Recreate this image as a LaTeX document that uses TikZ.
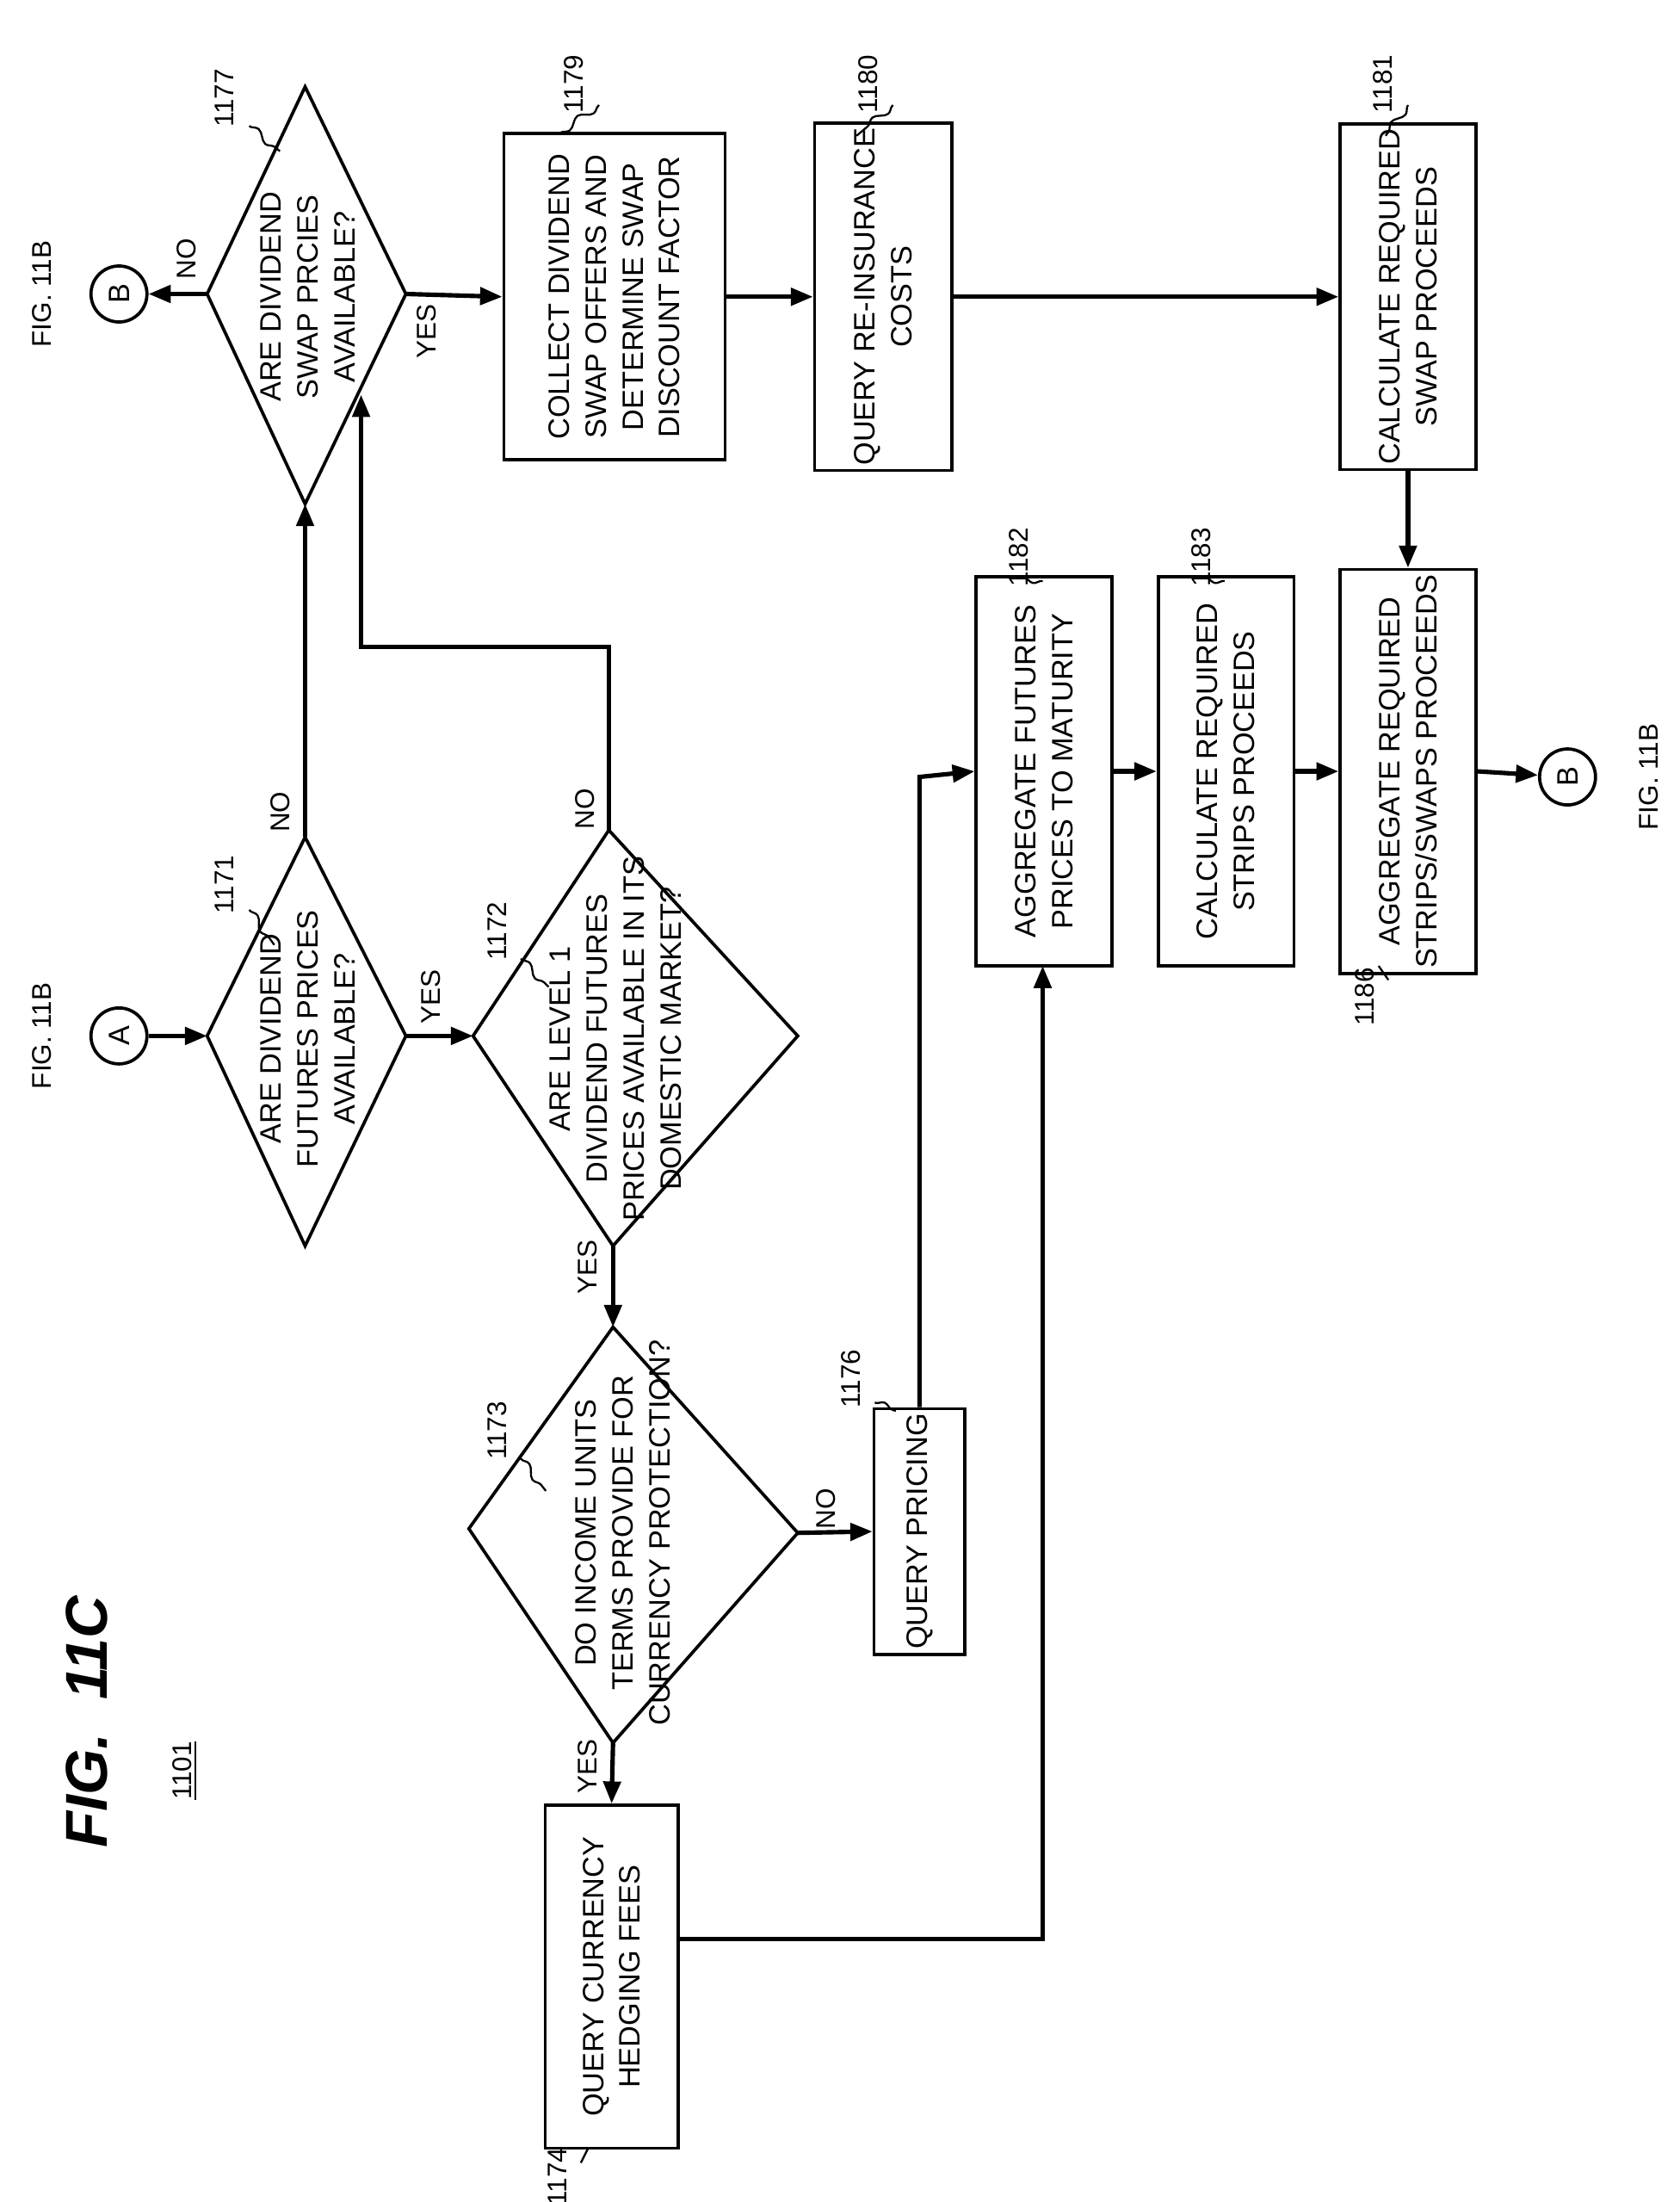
\documentclass[tikz,border=0pt]{standalone}
\usepackage{fontspec}
\setmainfont{Liberation Sans}
\usetikzlibrary{arrows.meta,decorations.pathmorphing}
\begin{document}
\begin{tikzpicture}[x=0.02cm,y=-0.02cm,
  every path/.style={line width=1.3pt},
  ar/.style={-{Triangle[length=9pt,width=7pt]},line width=1.8pt},
  box/.style={draw,rotate=90,align=center,font=\fontsize{12}{15}\selectfont,inner sep=2pt},
  txt/.style={rotate=90,align=center,font=\fontsize{12}{15}\selectfont},
  lab/.style={rotate=90,font=\fontsize{11}{13}\selectfont},
  circ/.style={draw,circle,minimum size=0.8cm,inner sep=0pt,rotate=90,font=\fontsize{12}{14}\selectfont},
  lead/.style={line width=0.8pt,decorate,decoration={snake,amplitude=1.5pt,segment length=12pt}}]
\useasboundingbox (0,0) rectangle (1200,1573);
% title
\node[rotate=90,font=\fontsize{24}{28}\selectfont\itshape\bfseries] (title) at (62,1230) {FIG.\ \ 11C};
\node[lab] (num) at (132,1265) {\underline{1101}};
% diamond 1171
\coordinate (d1l) at (148,740); \coordinate (d1t) at (218,598);
\coordinate (d1r) at (290,740); \coordinate (d1b) at (218,890);
\draw (d1l)--(d1t)--(d1r)--(d1b)--cycle;
\node[txt] (t1171) at (220,742) {ARE DIVIDEND\\FUTURES PRICES\\AVAILABLE?};
% diamond 1172
\coordinate (d2l) at (338,740); \coordinate (d2t) at (435,593);
\coordinate (d2r) at (570,740); \coordinate (d2b) at (438,890);
\draw (d2l)--(d2t)--(d2r)--(d2b)--cycle;
\node[txt] (t1172) at (440,742) {ARE LEVEL 1\\DIVIDEND FUTURES\\PRICES AVAILABLE IN ITS\\DOMESTIC MARKET?};
% diamond 1177
\coordinate (d7l) at (148,210); \coordinate (d7t) at (218,62);
\coordinate (d7r) at (290,210); \coordinate (d7b) at (218,360);
\draw (d7l)--(d7t)--(d7r)--(d7b)--cycle;
\node[txt] (t1177) at (220,212) {ARE DIVIDEND\\SWAP PRCIES\\AVAILABLE?};
% diamond 1173
\coordinate (d3l) at (335,1092); \coordinate (d3t) at (438,948);
\coordinate (d3r) at (570,1095); \coordinate (d3b) at (438,1245);
\draw (d3l)--(d3t)--(d3r)--(d3b)--cycle;
\node[txt] (t1173) at (445,1095) {DO INCOME UNITS\\TERMS PROVIDE FOR\\CURRENCY PROTECTION?};
% circles
\node[circ] (A) at (85,740) {A};
\node[circ] (B1) at (85,210) {B};
\node[circ] (B2) at (1120,555) {B};
\node[lab] (f1) at (30,740) {FIG. 11B};
\node[lab] (f2) at (30,210) {FIG. 11B};
\node[lab] (f3) at (1178,555) {FIG. 11B};
% boxes (rotated: minimum width = vertical extent)
\node[box,minimum width=233*0.02cm,minimum height=158*0.02cm] (b1179) at (439,212) {COLLECT DIVIDEND\\SWAP OFFERS AND\\DETERMINE SWAP\\DISCOUNT FACTOR};
\node[box,minimum width=231*0.02cm,minimum height=98*0.02cm] (b1180) at (631,212) {QUERY RE-INSURANCE\\COSTS};
\node[box,minimum width=231*0.02cm,minimum height=97*0.02cm] (b1181) at (1006,212) {CALCULATE REQUIRED\\SWAP PROCEEDS};
\node[box,minimum width=278*0.02cm,minimum height=97*0.02cm] (b1182) at (746,551) {AGGREGATE FUTURES\\PRICES TO MATURITY};
\node[box,minimum width=278*0.02cm,minimum height=97*0.02cm] (b1183) at (876,551) {CALCULATE REQUIRED\\STRIPS PROCEEDS};
\node[box,minimum width=278*0.02cm,minimum height=97*0.02cm] (b1186) at (1006,551) {AGGREGATE REQUIRED\\STRIPS/SWAPS PROCEEDS};
\node[box,minimum width=172*0.02cm,minimum height=65*0.02cm] (b1176) at (657,1094) {QUERY PRICING};
\node[box,minimum width=245*0.02cm,minimum height=95*0.02cm] (b1174) at (437,1412) {QUERY CURRENCY\\HEDGING FEES};
% connectors
\draw[ar] (A) -- (d1l);
\draw[ar] (d1r) -- (d2l);
\node[lab] (y1) at (308,712) {YES};
\draw[ar] (d1t) -- (d7b);
\node[lab] (n1) at (200,580) {NO};
\coordinate (k1) at (435,462); \coordinate (k2) at (258,462); \coordinate (k3) at (258,282);
\draw[ar] (d2t) -- (k1) -- (k2) -- (k3);
\node[lab] (n2) at (418,578) {NO};
\draw[ar] (d7l) -- (B1);
\node[lab] (n3) at (133,185) {NO};
\draw[ar] (d7r) -- (b1179.north);
\node[lab] (y3) at (305,237) {YES};
\draw[ar] (b1179.south) -- (b1180.north);
\draw[ar] (b1180.south) -- (b1181.north);
\draw[ar] (b1181.west) -- (b1186.east);
\draw[ar] (b1182.south) -- (b1183.north);
\draw[ar] (b1183.south) -- (b1186.north);
\draw[ar] (b1186.south) -- (B2);
\draw[ar] (d2b) -- (d3t);
\node[lab] (y2) at (420,905) {YES};
\draw[ar] (d3r) -- (b1176.north);
\node[lab] (n4) at (590,1078) {NO};
\coordinate (k4) at (657,555);
\draw[ar] (b1176.east) -- (k4) -- (b1182.north);
\draw[ar] (d3b) -- (b1174.east);
\node[lab] (y4) at (420,1262) {YES};
\coordinate (k5) at (745,1385); \coordinate (k6) at (745,690);
\draw[ar] (b1174.south |- k5) -- (k5) -- (k6);
% reference labels
\node[lab] (r1171) at (160,632) {1171};
\draw[lead] (178,650) -- (196,675);
\node[lab] (r1172) at (355,665) {1172};
\draw[lead] (372,685) -- (392,705);
\node[lab] (r1173) at (355,1022) {1173};
\draw[lead] (372,1042) -- (390,1065);
\node[lab] (r1176) at (608,985) {1176};
\draw[lead] (625,1002) -- (640,1008);
\node[lab] (r1177) at (160,70) {1177};
\draw[lead] (178,90) -- (200,108);
\node[lab] (r1179) at (410,60) {1179};
\draw[lead] (428,75) -- (400,95);
\node[lab] (r1180) at (620,60) {1180};
\draw[lead] (638,75) -- (612,97);
\node[lab] (r1181) at (988,60) {1181};
\draw[lead] (1006,75) -- (990,97);
\node[lab] (r1182) at (728,398) {1182};
\draw[lead] (745,415) -- (728,412);
\node[lab] (r1183) at (858,398) {1183};
\draw[lead] (875,415) -- (858,412);
\node[lab] (r1186) at (975,712) {1186};
\draw[lead] (992,700) -- (985,690);
\node[lab] (r1174) at (398,1555) {1174};
\draw[lead] (415,1545) -- (420,1535);
\end{tikzpicture}
\end{document}
